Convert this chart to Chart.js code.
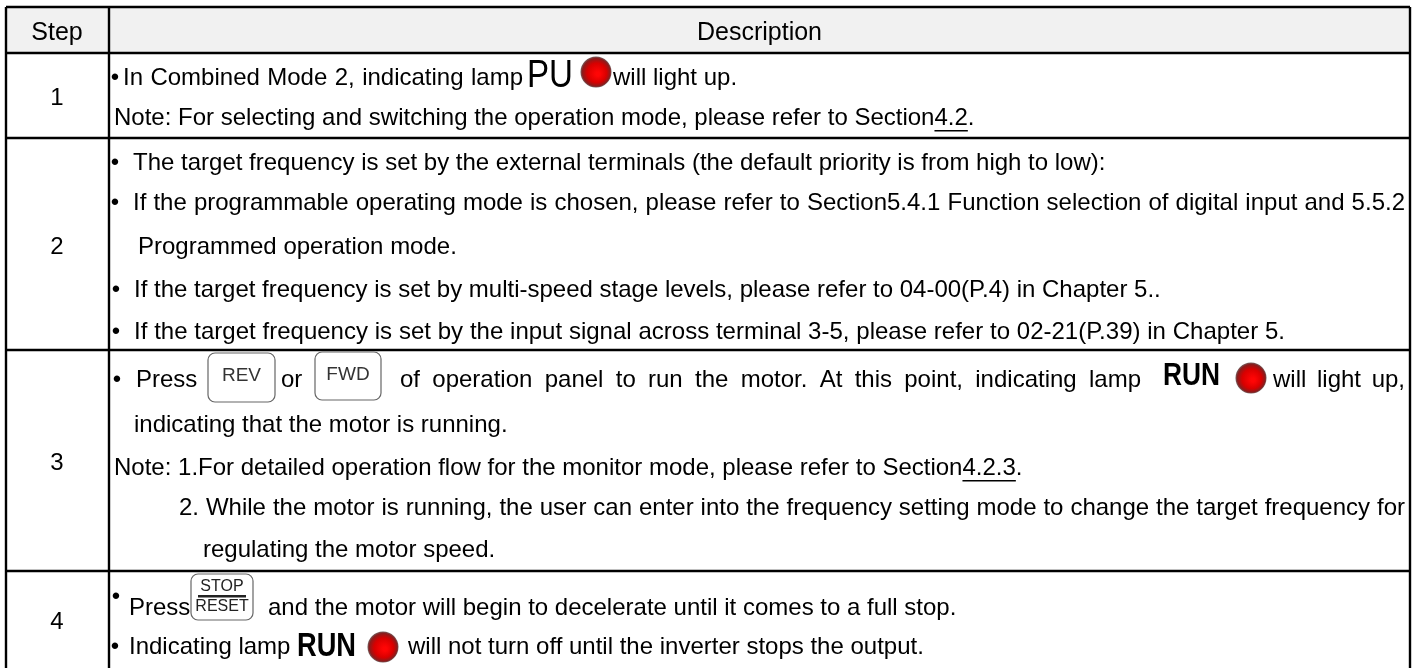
<!DOCTYPE html>
<html>
<head>
<meta charset="utf-8">
<style>
  html, body { margin: 0; padding: 0; background: #fff; }
  canvas { display: block; }
</style>
<script src="https://cdn.jsdelivr.net/npm/chart.js@4"></script>
</head>
<body>
<canvas id="tableChart" width="1423" height="668"></canvas>
<script>
/* Step table, drawn on a Chart.js scatter chart whose scales run in page units. */
const headers = ["Step", "Description"];
const steps = ["1", "2", "3", "4"];
const keyLabels = ["REV", "FWD", "RESET", "STOP"];
const lampLabels = ["PU", "RUN", "RUN"];
const descriptionLines = [
  "In Combined Mode 2, indicating lamp",
  "will light up.",
  "Note: For selecting and switching the operation mode, please refer to Section4.2.",
  "The target frequency is set by the external terminals (the default priority is from high to low):",
  "If the programmable operating mode is chosen, please refer to Section5.4.1 Function selection of digital input and 5.5.2",
  "Programmed operation mode.",
  "If the target frequency is set by multi-speed stage levels, please refer to 04-00(P.4) in Chapter 5..",
  "If the target frequency is set by the input signal across terminal 3-5, please refer to 02-21(P.39) in Chapter 5.",
  "Press",
  "or",
  "of operation panel to run the motor. At this point, indicating lamp",
  "will light up,",
  "indicating that the motor is running.",
  "Note: 1.For detailed operation flow for the monitor mode, please refer to Section4.2.3.",
  "2. While the motor is running, the user can enter into the frequency setting mode to change the target frequency for",
  "regulating the motor speed.",
  "Press",
  "and the motor will begin to decelerate until it comes to a full stop.",
  "Indicating lamp",
  "will not turn off until the inverter stops the output."
];
const underlined = ["4.2.3", "4.2"];

// layout, in page units
const colEdges = [6, 109, 1410];
const rowEdges = [7, 53, 138, 350, 571, 668];
const textFont = '24px "Liberation Sans"';
const stepY = [33, 98, 247, 463, 622];
// [x, y, right edge or null] per description line, same order as descriptionLines
const linePlace = [
  [123, 78, 523], [613, 78, null], [114, 118, null],
  [133, 163, null], [133, 203, 1405], [138, 247, null], [134, 290, null], [134, 332, 1285],
  [136, 380, null], [281, 380, null], [400, 380, 1141], [1273, 380, 1405],
  [134, 425, null], [114, 468, null], [179, 508, 1405], [203, 550, null],
  [129, 608, null], [268, 608, null], [129, 647, null], [408, 647, null]
];
const bulletPlace = [[115, 78], [115, 163], [115, 203], [116, 290], [116, 332], [117, 380], [116, 597], [115, 647]];
const keyPlace = [[208, 353, 67, 49], [315, 352, 66, 48]];
const stopKeyBox = [191, 574, 62, 46];
const lampTextPlace = [[527, 77, 46, 38, false], [1163, 376, 57, 32, true], [297, 647, 59, 33, true]];
const lampPoints = [{ x: 596, y: 72 }, { x: 1251, y: 378 }, { x: 383, y: 647 }];

const lampSprite = document.createElement("canvas");
lampSprite.width = lampSprite.height = 34;
const sp = lampSprite.getContext("2d");
const lampGrad = sp.createRadialGradient(19, 19, 2, 17, 17, 16);
lampGrad.addColorStop(0, "#ff0505");
lampGrad.addColorStop(0.55, "#d80000");
lampGrad.addColorStop(0.85, "#8a1c1c");
lampGrad.addColorStop(1, "#6f6f6f");
sp.fillStyle = lampGrad;
sp.beginPath();
sp.arc(17, 17, 15.5, 0, Math.PI * 2);
sp.fill();

const ruleStyle = { borderColor: "#000", borderWidth: 2.4, showLine: true, pointRadius: 0, fill: false };
const ruleSets = [
  ...rowEdges.slice(0, -1).map((y) => ({ ...ruleStyle, data: [{ x: colEdges[0], y }, { x: colEdges[2], y }] })),
  ...colEdges.map((x) => ({ ...ruleStyle, data: [{ x, y: rowEdges[0] }, { x, y: rowEdges[5] }] }))
];

function drawLine(ctx, text, x, y, right) {
  ctx.wordSpacing = "0px";
  if (right) {
    const gaps = text.split(" ").length - 1;
    const extra = (right - x - ctx.measureText(text).width) / gaps;
    ctx.wordSpacing = extra + "px";
  }
  ctx.fillText(text, x, y);
  const mark = underlined.find((part) => text.includes("Section" + part));
  if (mark) {
    const start = x + ctx.measureText(text.slice(0, text.indexOf("Section" + mark) + 7)).width;
    ctx.fillRect(start, y + 12, ctx.measureText(mark).width, 1.5);
  }
  ctx.wordSpacing = "0px";
}

const tablePlugin = {
  id: "tablePlugin",
  beforeDatasetsDraw(chart) {
    const { ctx, scales } = chart;
    const px = (v) => scales.x.getPixelForValue(v);
    const py = (v) => scales.y.getPixelForValue(v);
    ctx.fillStyle = "#f1f1f1";
    ctx.fillRect(px(colEdges[0]), py(rowEdges[0]), px(colEdges[2]) - px(colEdges[0]), py(rowEdges[1]) - py(rowEdges[0]));
  },
  afterDatasetsDraw(chart) {
    const { ctx, scales } = chart;
    const px = (v) => scales.x.getPixelForValue(v);
    const py = (v) => scales.y.getPixelForValue(v);
    ctx.save();
    ctx.textBaseline = "middle";
    ctx.fillStyle = "#000";
    ctx.textAlign = "center";
    ctx.font = '25px "Liberation Sans"';
    ctx.fillText(headers[1], px((colEdges[1] + colEdges[2]) / 2), py(stepY[0]));
    ctx.fillText(headers[0], px(57), py(stepY[0]));
    ctx.font = textFont;
    steps.forEach((s, i) => ctx.fillText(s, px(57), py(stepY[i + 1])));
    bulletPlace.forEach(([x, y]) => ctx.fillText("•", px(x), py(y)));
    ctx.textAlign = "left";
    descriptionLines.forEach((line, i) => {
      const [x, y, right] = linePlace[i];
      drawLine(ctx, line, px(x), py(y), right ? px(right) : null);
    });

    // big panel labels
    lampTextPlace.forEach(([x, y, w, size, heavy], i) => {
      ctx.font = (heavy ? "bold " : "") + size + 'px "Liberation Sans"';
      ctx.fillText(lampLabels[i], px(x), py(y), w);
    });

    // keys
    ctx.strokeStyle = "#666";
    ctx.lineWidth = 1.2;
    ctx.textAlign = "center";
    keyPlace.forEach(([x, y, w, h], i) => {
      ctx.beginPath();
      ctx.roundRect(px(x), py(y), w, h, 7);
      ctx.stroke();
      ctx.fillStyle = "#333";
      ctx.font = '19px "Liberation Sans"';
      ctx.fillText(keyLabels[i], px(x) + w / 2, py(y) + h / 2 - 1.5);
    });
    const [kx, ky, kw, kh] = stopKeyBox;
    ctx.beginPath();
    ctx.roundRect(px(kx), py(ky), kw, kh, 7);
    ctx.stroke();
    ctx.fillStyle = "#222";
    ctx.font = '16px "Liberation Sans"';
    ctx.fillText(keyLabels[3], px(kx) + kw / 2, py(ky) + 12.5);
    ctx.fillText(keyLabels[2], px(kx) + kw / 2, py(ky) + 32.5);
    ctx.fillRect(px(kx) + 7, py(ky) + 21, kw - 14, 2.5);
    ctx.restore();
  }
};

new Chart(document.getElementById("tableChart"), {
  type: "scatter",
  data: {
    datasets: [
      ...ruleSets,
      { data: lampPoints, pointStyle: lampSprite, pointRadius: 15, showLine: false }
    ]
  },
  options: {
    responsive: false,
    animation: false,
    events: [],
    layout: { padding: 0, autoPadding: false },
    plugins: { legend: { display: false }, tooltip: { enabled: false } },
    scales: {
      x: { type: "linear", min: 0, max: 1423, display: false },
      y: { type: "linear", min: 0, max: 668, reverse: true, display: false }
    }
  },
  plugins: [tablePlugin]
});
</script>
</body>
</html>
